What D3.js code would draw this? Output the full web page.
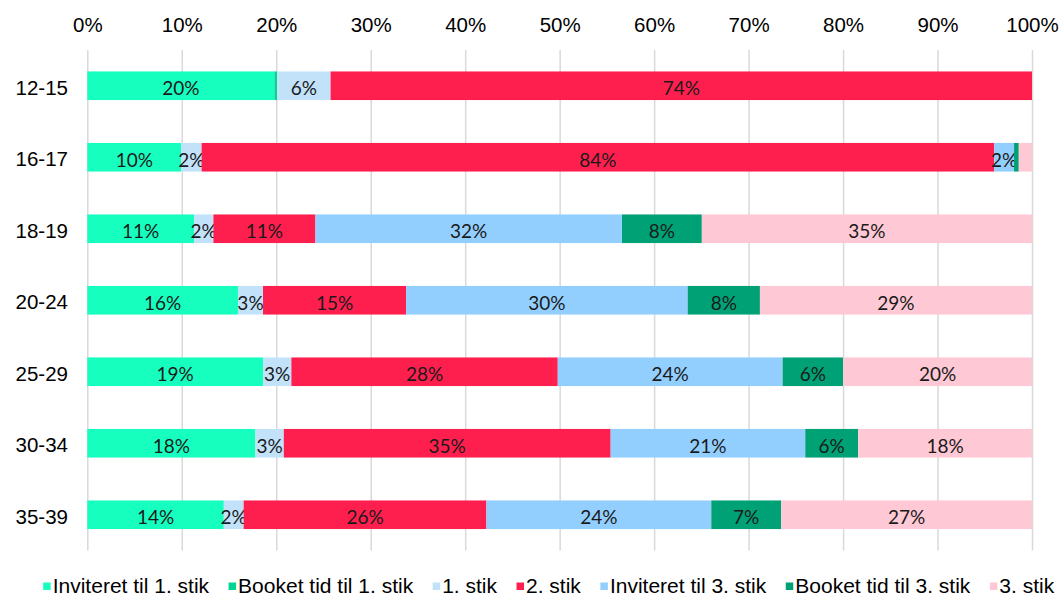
<!DOCTYPE html>
<html>
<head>
<meta charset="utf-8">
<script src="https://cdn.jsdelivr.net/npm/d3@7"></script>
<style>
    html, body { margin: 0; padding: 0; background: #ffffff; }
    svg { display: block; }
</style>
</head>
<body>
<div id="chart"></div>
<script>
(function () {
    "use strict";

    // Age groups (rows, top to bottom)
    const categories = ["12-15", "16-17", "18-19", "20-24", "25-29", "30-34", "35-39"];

    const seriesNames = [
        "Inviteret til 1. stik",
        "Booket tid til 1. stik",
        "1. stik",
        "2. stik",
        "Inviteret til 3. stik",
        "Booket tid til 3. stik",
        "3. stik"
    ];

    // Share of each age group (%)
    const inviteret1 = [19.8, 9.95, 11.3, 15.95, 18.6, 17.8, 14.45];
    const booket1 = [0.3, 0, 0, 0, 0, 0, 0];
    const stik1 = [5.65, 2.15, 2.05, 2.65, 3.0, 3.0, 2.1];
    const stik2 = [74.25, 83.9, 10.8, 15.15, 28.2, 34.6, 25.7];
    const inviteret3 = [0, 2.1, 32.45, 29.8, 23.8, 20.6, 23.8];
    const booket3 = [0, 0.5, 8.45, 7.65, 6.4, 5.6, 7.4];
    const stik3 = [0, 1.4, 34.95, 28.8, 20.0, 18.4, 26.55];

    const tickValues = [0, 10, 20, 30, 40, 50, 60, 70, 80, 90, 100];

    const colors = ["#17ffbf", "#00d596", "#c2e2fa", "#ff1f4f", "#93cffe", "#00a275", "#ffc8d5"];

    const seriesValues = [inviteret1, booket1, stik1, stik2, inviteret3, booket3, stik3];

    const rows = categories.map((cat, i) => {
        const row = { category: cat };
        seriesNames.forEach((name, s) => {
            row[name] = seriesValues[s][i];
        });
        return row;
    });

    const width = 1061;
    const height = 596;
    const plot = { left: 87.3, right: 1032, top: 50, bottom: 550.5 };
    const axisFont = "'Liberation Sans', Arial, sans-serif";
    const labelFont = "Lato, 'Open Sans', sans-serif";

    const svg = d3.select("#chart")
        .append("svg")
        .attr("width", width)
        .attr("height", height)
        .attr("viewBox", [0, 0, width, height]);

    const x = d3.scaleLinear()
        .domain([0, 100])
        .range([plot.left, plot.right]);

    const y = d3.scaleBand()
        .domain(categories)
        .range([plot.top, plot.bottom])
        .paddingInner(0.6)
        .paddingOuter(0.3);

    // vertical gridlines
    svg.append("g")
        .attr("class", "grid")
        .attr("transform", `translate(0,${plot.top})`)
        .call(d3.axisTop(x).tickValues(tickValues).tickSize(-(plot.bottom - plot.top)).tickFormat(""))
        .call((g) => g.select(".domain").remove())
        .call((g) => g.selectAll("line").attr("stroke", "#d9d9d9").attr("stroke-width", 1.5));

    // top tick labels
    svg.append("g")
        .attr("transform", "translate(0,32)")
        .call(d3.axisTop(x).tickValues(tickValues).tickSize(0).tickPadding(0).tickFormat((d) => d + "%"))
        .call((g) => g.select(".domain").remove())
        .call((g) => g.selectAll("text")
            .attr("dy", 0)
            .attr("fill", "#000")
            .style("font-family", axisFont)
            .style("font-size", "20.5px"));

    // category labels
    svg.append("g")
        .attr("transform", "translate(68,0)")
        .call(d3.axisLeft(y).tickSize(0).tickPadding(0))
        .call((g) => g.select(".domain").remove())
        .call((g) => g.selectAll("text")
            .attr("dy", "0.44em")
            .attr("fill", "#000")
            .style("font-family", axisFont)
            .style("font-size", "20.5px"));

    const stacked = d3.stack().keys(seriesNames)(rows);

    const layers = svg.append("g")
        .selectAll("g.layer")
        .data(stacked)
        .join("g")
        .attr("class", "layer")
        .attr("fill", (d, i) => colors[i]);

    layers.selectAll("rect")
        .data((d) => d.filter((p) => p[1] - p[0] > 0))
        .join("rect")
        .attr("x", (d) => x(d[0]))
        .attr("y", (d) => y(d.data.category))
        .attr("width", (d) => x(d[1]) - x(d[0]))
        .attr("height", y.bandwidth());

    // data labels
    layers.selectAll("text")
        .data((d) => d.filter((p) => p[1] - p[0] >= 1.5))
        .join("text")
        .attr("x", (d) => x((d[0] + d[1]) / 2))
        .attr("y", (d) => y(d.data.category) + y.bandwidth() / 2 + 9.5)
        .attr("text-anchor", "middle")
        .attr("fill", "#1a1a1a")
        .style("font-family", labelFont)
        .style("font-size", "19px")
        .text((d) => Math.round(d[1] - d[0]) + "%");

    // legend
    const legend = svg.append("g").attr("class", "legend");
    const items = legend.selectAll("g")
        .data(seriesNames)
        .join("g");

    items.append("rect")
        .attr("y", 582.5)
        .attr("width", 7.5)
        .attr("height", 7.5)
        .attr("fill", (d, i) => colors[i]);

    items.append("text")
        .attr("x", 9.5)
        .attr("y", 592.5)
        .attr("fill", "#000")
        .style("font-family", axisFont)
        .style("font-size", "21px")
        .text((d) => d);

    let cursor = 0;
    items.each(function () {
        const w = d3.select(this).select("text").node().getComputedTextLength();
        d3.select(this).attr("transform", `translate(${cursor},0)`);
        cursor += 9.5 + w + 19.5;
    });
    const total = cursor - 19.5;
    legend.attr("transform", `translate(${548.7 - total / 2},0)`);
})();
</script>
</body>
</html>
